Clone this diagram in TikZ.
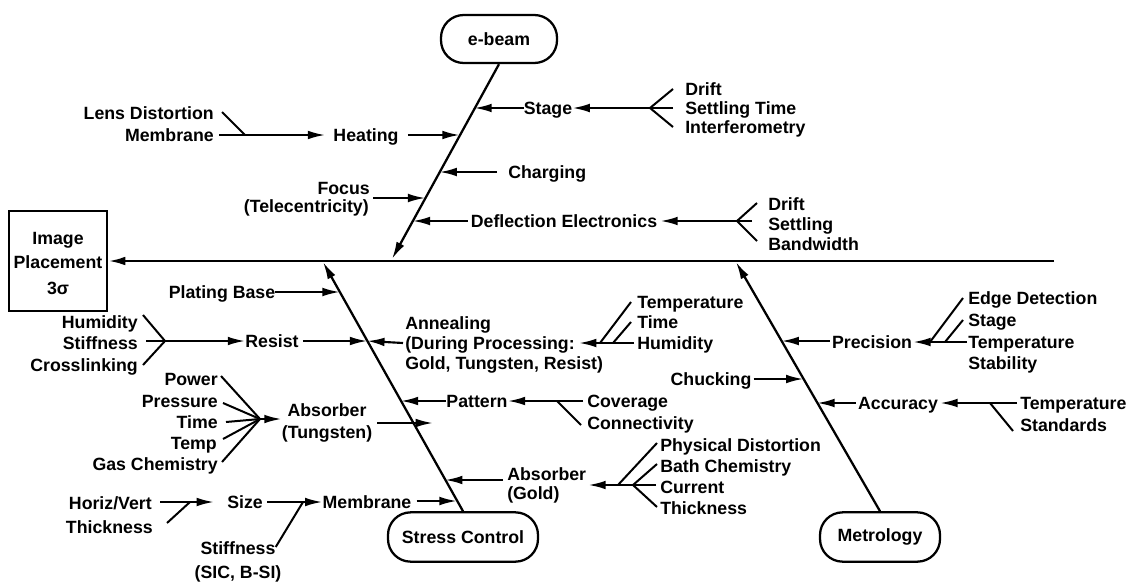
\documentclass[tikz,border=0pt]{standalone}
\usepackage{fontspec}
\setmainfont{Liberation Sans}
\usetikzlibrary{arrows.meta,calc}
\begin{document}
\begin{tikzpicture}[x=0.75pt,y=-0.75pt,
  lbl/.style={font=\fontsize{13.3}{15}\selectfont\bfseries, inner sep=0pt, text height=9.5pt, text depth=0pt},
  arr/.style={line width=1.6pt, -{Latex[length=13pt,width=6.5pt]}},
  ln/.style={line width=1.5pt},
  cause/.style={draw, line width=1.7pt, rounded corners=17pt, inner sep=0pt,
    font=\fontsize{13.3}{15}\selectfont\bfseries, minimum height=37pt}
]
\useasboundingbox (0,0) rectangle (1130,582);

% ---------- effect box and spine ----------
\node[draw, line width=1.6pt, minimum width=73.5pt, minimum height=75pt, inner sep=0pt] (box) at (58,261) {};
\node[lbl] (img1) at (58,238) {Image};
\node[lbl] (img2) at (58,262) {Placement};
\node[lbl] (img3) at (58,288) {3σ};
\coordinate (spineR) at (1054,261);
\draw[arr, line width=2pt] (spineR) -- (box.east);

% ---------- cause nodes and bones ----------
\node[cause, minimum width=87pt, minimum height=36pt] (ebeam) at (499,39) {e-beam};
\node[cause, minimum width=112.5pt] (stress) at (463,537) {Stress Control};
\node[cause, minimum width=90pt] (metro) at (880,537) {Metrology};
\coordinate (ebtip) at (392,259);
\coordinate (sctip) at (323,262);
\coordinate (mttip) at (736,262);
\draw[arr, line width=1.7pt] (ebeam.south) -- (ebtip);
\draw[arr, line width=1.7pt] (stress.north) -- (sctip);
\draw[arr, line width=1.7pt] (metro.north) -- (mttip);

% ---------- e-beam branches ----------
\node[lbl] (stage) at (548,108) {Stage};
\coordinate (eb1) at (474.4,108);
\draw[arr] (stage.west) -- (eb1);
\node[lbl, anchor=west] (drift1) at (685,89) {Drift};
\node[lbl, anchor=west] (settle1) at (685,108) {Settling Time};
\node[lbl, anchor=west] (interf) at (685,127) {Interferometry};
\coordinate (fk1) at (650,108);
\draw[arr] ($(settle1.west)+(-12,0)$) -- (stage.east);
\draw[ln] (fk1) -- ($(drift1.west)+(-12,0)$);
\draw[ln] (fk1) -- ($(interf.west)+(-12,0)$);

\node[lbl] (heat) at (366,135) {Heating};
\coordinate (eb2) at (459.7,135);
\draw[arr] ($(heat.east)+(9,0)$) -- (eb2);
\node[lbl, anchor=east] (lens) at (214,113) {Lens Distortion};
\node[lbl, anchor=east] (memb1) at (214,135) {Membrane};
\coordinate (j1) at (245,135);
\draw[arr] ($(memb1.east)+(5,0)$) -- ($(heat.west)+(-8,0)$);
\draw[ln] ($(lens.east)+(8,-1)$) -- (j1);

\node[lbl, anchor=west] (charg) at (508,172) {Charging};
\coordinate (eb3) at (439.5,172);
\draw[arr] ($(charg.west)+(-11,0)$) -- (eb3);

\node[lbl, anchor=east] (focus1) at (370,188) {Focus};
\node[lbl, anchor=east] (focus2) at (369,206) {(Telecentricity)};
\coordinate (focA) at (373,198);
\coordinate (eb4) at (425.3,198);
\draw[arr] (focA) -- (eb4);

\node[lbl] (defl) at (564,221) {Deflection Electronics};
\coordinate (eb5) at (412.7,221);
\draw[arr] ($(defl.west)+(-3,0)$) -- (eb5);
\node[lbl, anchor=west] (drift2) at (768,204) {Drift};
\node[lbl, anchor=west] (settle2) at (768,224) {Settling};
\node[lbl, anchor=west] (bandw) at (768,244) {Bandwidth};
\coordinate (fk2) at (737,221);
\coordinate (fk2m) at (752,221);
\draw[arr] (fk2m) -- ($(defl.east)+(3,0)$);
\draw[ln] (fk2) -- ($(drift2.west)+(-11,-1)$);
\draw[ln] (fk2) -- ($(bandw.west)+(-11,-3)$);

% ---------- Stress Control branches ----------
\node[lbl] (plating) at (222,292) {Plating Base};
\coordinate (sc1) at (339.8,292);
\draw[arr] (plating.east) -- (sc1);

\node[lbl] (resist) at (272,341) {Resist};
\coordinate (sc2) at (367.2,341);
\draw[arr] ($(resist.east)+(4,0)$) -- (sc2);
\node[lbl, anchor=east] (humid1) at (138,322) {Humidity};
\node[lbl, anchor=east] (stiff1) at (138,343) {Stiffness};
\node[lbl, anchor=east] (cross) at (138,365) {Crosslinking};
\coordinate (fk3) at (165,341);
\draw[arr] ($(stiff1.east)+(8,-2)$) -- (resist.west);
\draw[ln] (fk3) -- ($(humid1.east)+(5,-7)$);
\draw[ln] (fk3) -- ($(cross.east)+(5,0)$);

\node[lbl, anchor=west] (anneal1) at (405,323) {Annealing};
\node[lbl, anchor=west] (anneal2) at (405,343) {(During Processing:};
\node[lbl, anchor=west] (anneal3) at (405,363) {Gold, Tungsten, Resist)};
\coordinate (sc3) at (367.2,341);
\draw[arr] ($(anneal2.west)+(-2,0)$) -- (sc3);
\node[lbl, anchor=west] (temp1) at (637,302) {Temperature};
\node[lbl, anchor=west] (time1) at (637,322) {Time};
\node[lbl, anchor=west] (humid2) at (637,343) {Humidity};
\draw[arr] ($(humid2.west)+(-3,0)$) -- ($(anneal2.east)+(4,0)$);
\coordinate (fk4a) at (600,343);
\coordinate (fk4b) at (613,343);
\draw[ln] (fk4a) -- ($(temp1.west)+(-6,0)$);
\draw[ln] (fk4b) -- ($(time1.west)+(-6,0)$);

\node[lbl] (pattern) at (477,401) {Pattern};
\coordinate (sc4) at (400.8,401);
\draw[arr] (pattern.west) -- (sc4);
\node[lbl, anchor=west] (cover) at (587,401) {Coverage};
\node[lbl, anchor=west] (connect) at (587,423) {Connectivity};
\coordinate (fk5) at (557,401);
\draw[arr] ($(cover.west)+(-4,0)$) -- (pattern.east);
\draw[ln] (fk5) -- ($(connect.west)+(-6,2)$);

\node[lbl] (absT1) at (327,410) {Absorber};
\node[lbl] (absT2) at (327,432) {(Tungsten)};
\coordinate (absTa) at (377,423);
\coordinate (absTb) at (433,423);
\draw[arr] (absTa) -- (absTb);
\node[lbl, anchor=east] (power) at (218,379) {Power};
\node[lbl, anchor=east] (press) at (218,401) {Pressure};
\node[lbl, anchor=east] (time2) at (218,422) {Time};
\node[lbl, anchor=east] (tempr) at (217,443) {Temp};
\node[lbl, anchor=east] (gas) at (218,464) {Gas Chemistry};
\coordinate (fk6) at (260,419);
\draw[arr] (fk6) -- ($(absT2.west)+(0,-13)$);
\draw[ln] (fk6) -- ($(power.east)+(3,-3)$);
\draw[ln] (fk6) -- ($(press.east)+(5,2)$);
\draw[ln] (fk6) -- ($(time2.east)+(8,0)$);
\draw[ln] (fk6) -- ($(tempr.east)+(6,-4)$);
\draw[ln] (fk6) -- ($(gas.east)+(4,-2)$);

\node[lbl] (membr) at (367,502) {Membrane};
\coordinate (sc5) at (456.8,501);
\draw[arr] ($(membr.east)+(5,-1)$) -- (sc5);
\node[lbl] (size) at (245,502) {Size};
\draw[arr] ($(size.east)+(4,0)$) -- (membr.west);
\node[lbl] (stiff2) at (238,548) {Stiffness};
\node[lbl] (sic) at (238,572) {(SIC, B-SI)};
\coordinate (j2) at (303,502);
\draw[ln] ($(stiff2.east)+(0,-1)$) -- (j2);
\node[lbl, anchor=east] (horiz) at (152,503) {Horiz/Vert};
\node[lbl, anchor=east] (thick1) at (153,527) {Thickness};
\draw[arr] ($(horiz.east)+(8,-1)$) -- ($(size.west)+(-13,0)$);
\coordinate (j3) at (190,502);
\draw[ln] ($(thick1.east)+(14,-4)$) -- (j3);

\node[lbl, anchor=west] (absG1) at (507,474) {Absorber};
\node[lbl, anchor=west] (absG2) at (507,493) {(Gold)};
\coordinate (absGa) at (503,480);
\coordinate (sc6) at (445.1,480);
\draw[arr] (absGa) -- (sc6);
\node[lbl, anchor=west] (phys) at (660,445) {Physical Distortion};
\node[lbl, anchor=west] (bath) at (660,466) {Bath Chemistry};
\node[lbl, anchor=west] (curr) at (660,487) {Current};
\node[lbl, anchor=west] (thick2) at (660,508) {Thickness};
\coordinate (fk7a) at (618,485);
\coordinate (fk7b) at (633,485);
\draw[arr] ($(curr.west)+(-4,-2)$) -- ($(absG1.east)+(2,11)$);
\draw[ln] (fk7a) -- ($(phys.west)+(-3,-2)$);
\draw[ln] (fk7b) -- ($(bath.west)+(-3,-2)$);
\draw[ln] (fk7b) -- ($(thick2.west)+(-3,-1)$);

% ---------- Metrology branches ----------
\node[lbl] (prec) at (872,342) {Precision};
\coordinate (mt1) at (781.5,341);
\draw[arr] ($(prec.west)+(-2,-1)$) -- (mt1);
\node[lbl, anchor=west] (edge) at (968,298) {Edge Detection};
\node[lbl, anchor=west] (stage2) at (968,320) {Stage};
\node[lbl, anchor=west] (temp2) at (968,342) {Temperature};
\node[lbl, anchor=west] (stab) at (968,363) {Stability};
\coordinate (fk8a) at (930,342);
\coordinate (fk8b) at (945,342);
\draw[arr] ($(temp2.west)+(-1,0)$) -- ($(prec.east)+(1,0)$);
\draw[ln] (fk8a) -- ($(edge.west)+(-5,0)$);
\draw[ln] (fk8b) -- ($(stage2.west)+(-5,0)$);

\node[lbl] (chuck) at (711,379) {Chucking};
\coordinate (mt2) at (803.4,379);
\draw[arr] ($(chuck.east)+(2,0)$) -- (mt2);

\node[lbl] (accur) at (898,403) {Accuracy};
\coordinate (mt3) at (817.2,403);
\draw[arr] ($(accur.west)+(-2,0)$) -- (mt3);
\node[lbl, anchor=west] (temp3) at (1020,403) {Temperature};
\node[lbl, anchor=west] (stand) at (1020,425) {Standards};
\coordinate (fk9) at (990,403);
\draw[arr] ($(temp3.west)+(-3,0)$) -- ($(accur.east)+(2,0)$);
\draw[ln] (fk9) -- ($(stand.west)+(-7,6)$);
\end{tikzpicture}
\end{document}
